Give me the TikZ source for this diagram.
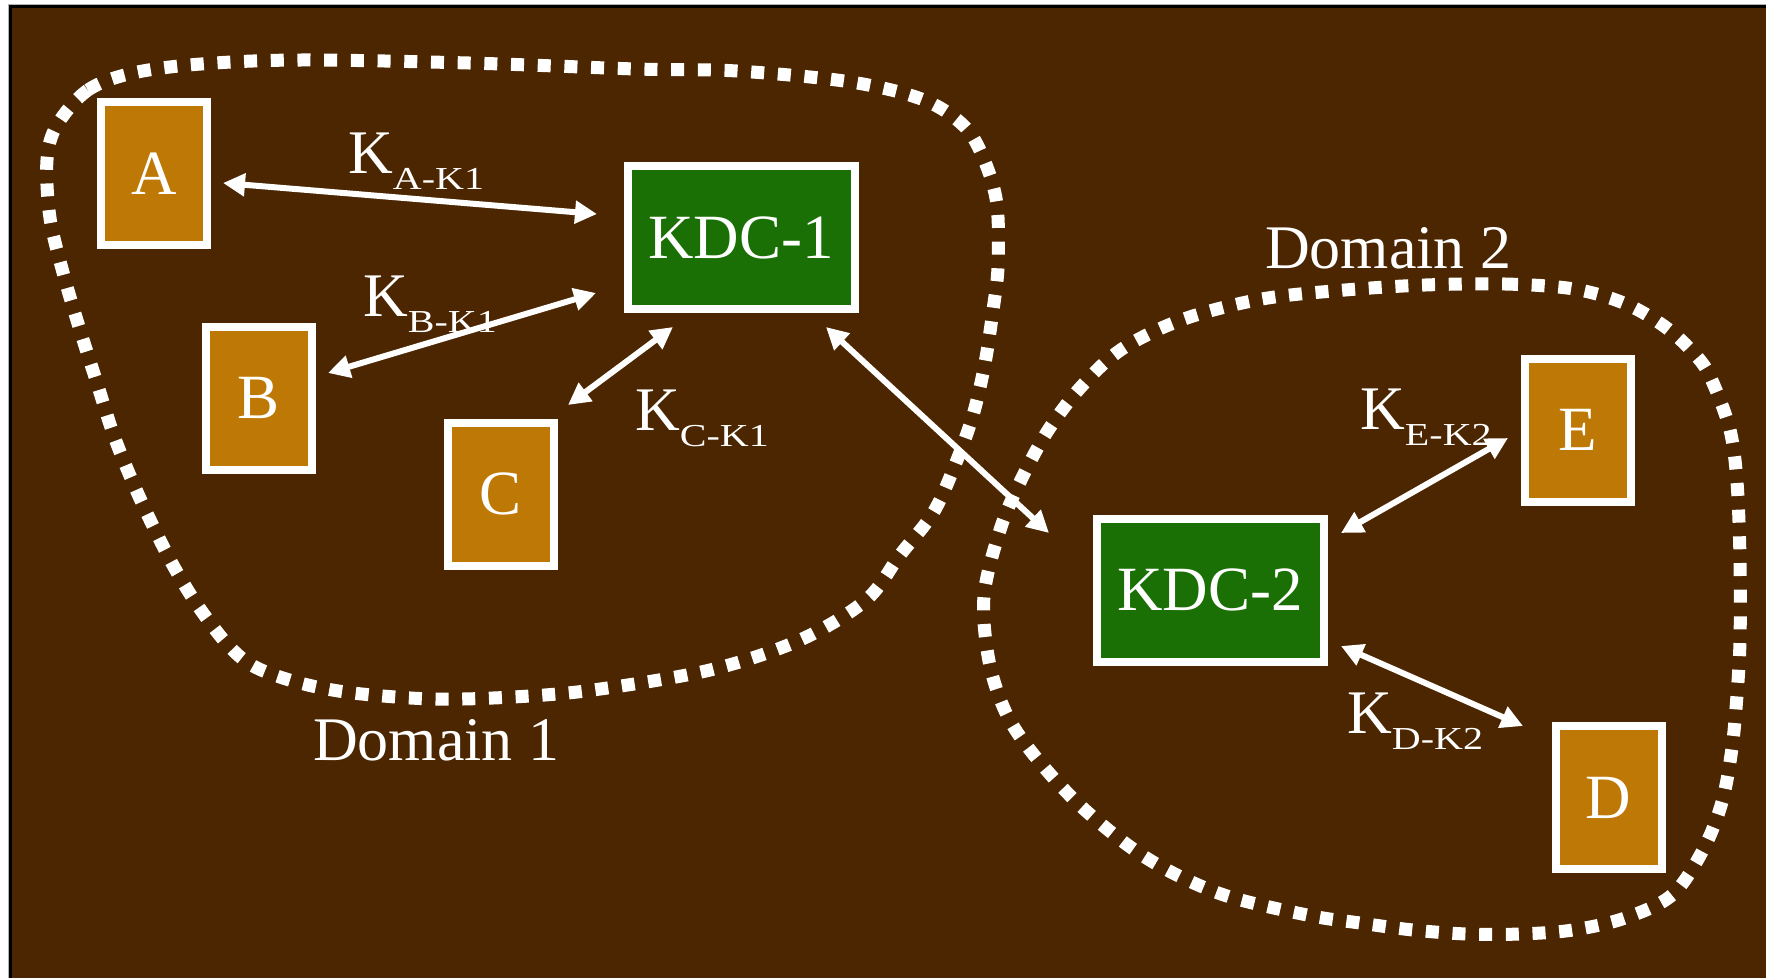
\documentclass[tikz,border=0pt]{standalone}
\usepackage{fontspec}
\setmainfont{Liberation Serif}
\usetikzlibrary{arrows.meta}
\definecolor{bgbrown}{RGB}{75,38,0}
\definecolor{hostorange}{RGB}{190,120,5}
\definecolor{kdcgreen}{RGB}{26,112,5}

% K with a lowered, wide subscript
\newcommand{\keysub}[1]{K\raisebox{-16pt}{\scalebox{1}[0.8]{\fontsize{40}{40}\selectfont #1}}}

\begin{document}
\begin{tikzpicture}[x=1pt,y=-1pt,
  host/.style={draw=white, line width=8pt, fill=hostorange, minimum width=106pt,
    minimum height=143pt, inner sep=0pt, text=white, font=\fontsize{63}{63}\selectfont},
  kdc/.style={host, fill=kdcgreen, minimum width=227pt, minimum height=143pt},
  keyarrow/.style={draw=white, line width=6pt,
    {Triangle[length=22pt,width=22pt]}-{Triangle[length=22pt,width=22pt]}},
  domainline/.style={draw=white, line width=13pt, dash pattern=on 13pt off 13.7pt},
  keylabel/.style={anchor=base west, inner sep=0pt, text=white,
    font=\fontsize{62}{62}\selectfont},
]
\useasboundingbox (0,0) rectangle (1766,977);
\clip (0,0) rectangle (1766,977);
\fill[white] (0,0) rectangle (1766,977);
\draw[gray!60, line width=1pt] (8.5,4.5) rectangle (1790,1000);
\draw[black, line width=2.5pt, fill=bgbrown] (10.5,6.5) rectangle (1790,1000);

% domain boundaries
\draw[domainline] plot[smooth cycle, tension=0.55] coordinates {
  (57,125) (88,90) (133,73) (201,64) (301,60) (469,63) (636,69) (737,71)
  (851,82) (924,100) (965,127) (985,162) (997,205) (998,267) (993,310)
  (985,363) (973,415) (955,465) (933,513) (900,555) (866,600) (800,640)
  (710,670) (593,690) (513,697) (433,699) (353,693) (300,683) (255,667)
  (228,645) (198,606) (174,567) (154,528) (134,485) (114,436) (97,383)
  (80,330) (64,276) (50,218) (47,160)};

\draw[domainline] plot[smooth cycle, tension=0.55] coordinates {
  (1425,285) (1505,284) (1574,289) (1626,304) (1668,329) (1699,359)
  (1713,383) (1730,430) (1737,482) (1740,560) (1740,640) (1737,695)
  (1732,748) (1722,802) (1703,850) (1672,895) (1625,918) (1573,930)
  (1520,934) (1467,934) (1413,930) (1360,923) (1307,915) (1221,894)
  (1148,859) (1085,810) (1038,760) (1007,715) (989,661) (984,596)
  (1000,530) (1020,482) (1047,432) (1080,388) (1122,349) (1184,319)
  (1262,299) (1345,290)};

% hosts and key distribution centres
\node[host] (A) at (154,173.5) {A};
\node[host] (B) at (259,398) {B};
\node[host] (C) at (500.5,494) {C};
\node[host] (E) at (1577.5,430) {E};
\node[host] (D) at (1608.5,797.5) {D};
\node[kdc] (K1) at (741,237.5) {KDC-1};
\node[kdc] (K2) at (1210,590) {KDC-2};

% shared keys
\draw[keyarrow] ([shift={(69,9.5)}]A.center) -- ([shift={(-144,-23.5)}]K1.center);
\draw[keyarrow] ([shift={(69,-25)}]B.center) -- ([shift={(-145,55.5)}]K1.center);
\draw[keyarrow] ([shift={(67.5,-89)}]C.center) -- ([shift={(-68,89.5)}]K1.center);
\draw[keyarrow] ([shift={(85,89.5)}]K1.center) -- ([shift={(-161,-57)}]K2.center);
\draw[keyarrow] ([shift={(131,-57)}]K2.center) -- ([shift={(-69.5,8)}]E.center);
\draw[keyarrow] ([shift={(131,56)}]K2.center) -- ([shift={(-85.5,-71.5)}]D.center);

\node[keylabel] (lA) at (348,173) {\keysub{A-K1}};
\node[keylabel] (lB) at (363,316) {\keysub{B-K1}};
\node[keylabel] (lC) at (635,430) {\keysub{C-K1}};
\node[keylabel] (lE) at (1360,429) {\keysub{E-K2}};
\node[keylabel] (lD) at (1347,733) {\keysub{D-K2}};

\node[keylabel] (d1) at (313,760) {Domain 1};
\node[keylabel] (d2) at (1265,268) {Domain 2};
\end{tikzpicture}
\end{document}
